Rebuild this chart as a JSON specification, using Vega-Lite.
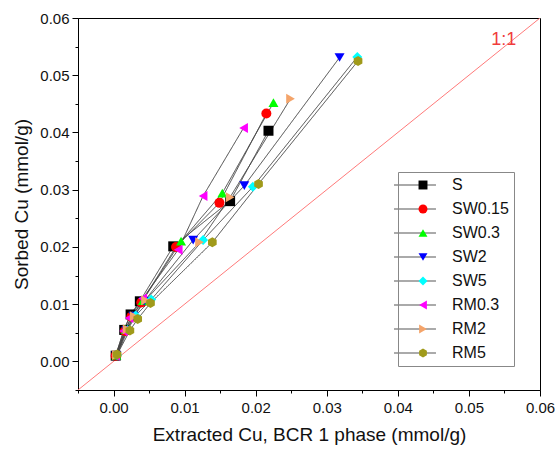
{
  "$schema": "https://vega.github.io/schema/vega-lite/v6.json",
  "width": 462,
  "height": 372,
  "autosize": {"type": "none"},
  "padding": {"left": 78, "top": 18, "right": 15, "bottom": 60},
  "background": "white",
  "config": {
    "font": "Liberation Sans",
    "view": {"stroke": "#000", "strokeWidth": 1},
    "axis": {
      "grid": false,
      "domainColor": "#000",
      "tickColor": "#000",
      "labelColor": "#111",
      "titleColor": "#111",
      "labelFontSize": 15,
      "titleFontSize": 19,
      "titleFontWeight": "normal",
      "labelFont": "Liberation Sans",
      "titleFont": "Liberation Sans"
    }
  },
  "datasets": {
    "pts": [
      {"series": "S", "x": 0.0003, "y": 0.0010},
      {"series": "S", "x": 0.0015, "y": 0.0055},
      {"series": "S", "x": 0.0024, "y": 0.0082},
      {"series": "S", "x": 0.0037, "y": 0.0105},
      {"series": "S", "x": 0.0084, "y": 0.0201},
      {"series": "S", "x": 0.0164, "y": 0.0280},
      {"series": "S", "x": 0.0218, "y": 0.0403},
      {"series": "SW0.15", "x": 0.0003, "y": 0.0010},
      {"series": "SW0.15", "x": 0.0016, "y": 0.0053},
      {"series": "SW0.15", "x": 0.0025, "y": 0.0078},
      {"series": "SW0.15", "x": 0.0039, "y": 0.0103},
      {"series": "SW0.15", "x": 0.0088, "y": 0.0200},
      {"series": "SW0.15", "x": 0.0149, "y": 0.0277},
      {"series": "SW0.15", "x": 0.0215, "y": 0.0433},
      {"series": "SW0.3", "x": 0.0004, "y": 0.0011},
      {"series": "SW0.3", "x": 0.0017, "y": 0.0056},
      {"series": "SW0.3", "x": 0.0027, "y": 0.0080},
      {"series": "SW0.3", "x": 0.0041, "y": 0.0106},
      {"series": "SW0.3", "x": 0.0095, "y": 0.0210},
      {"series": "SW0.3", "x": 0.0153, "y": 0.0294},
      {"series": "SW0.3", "x": 0.0225, "y": 0.0452},
      {"series": "SW2", "x": 0.0004, "y": 0.0010},
      {"series": "SW2", "x": 0.0018, "y": 0.0054},
      {"series": "SW2", "x": 0.0028, "y": 0.0079},
      {"series": "SW2", "x": 0.0043, "y": 0.0105},
      {"series": "SW2", "x": 0.0112, "y": 0.0212},
      {"series": "SW2", "x": 0.0184, "y": 0.0307},
      {"series": "SW2", "x": 0.0318, "y": 0.0531},
      {"series": "SW5", "x": 0.0005, "y": 0.0011},
      {"series": "SW5", "x": 0.0020, "y": 0.0055},
      {"series": "SW5", "x": 0.0031, "y": 0.0080},
      {"series": "SW5", "x": 0.0053, "y": 0.0108},
      {"series": "SW5", "x": 0.0126, "y": 0.0212},
      {"series": "SW5", "x": 0.0196, "y": 0.0305},
      {"series": "SW5", "x": 0.0343, "y": 0.0532},
      {"series": "RM0.3", "x": 0.0003, "y": 0.0010},
      {"series": "RM0.3", "x": 0.0014, "y": 0.0053},
      {"series": "RM0.3", "x": 0.0022, "y": 0.0076},
      {"series": "RM0.3", "x": 0.0041, "y": 0.0110},
      {"series": "RM0.3", "x": 0.0091, "y": 0.0195},
      {"series": "RM0.3", "x": 0.0126, "y": 0.0289},
      {"series": "RM0.3", "x": 0.0183, "y": 0.0408},
      {"series": "RM2", "x": 0.0004, "y": 0.0011},
      {"series": "RM2", "x": 0.0019, "y": 0.0056},
      {"series": "RM2", "x": 0.0029, "y": 0.0079},
      {"series": "RM2", "x": 0.0045, "y": 0.0107},
      {"series": "RM2", "x": 0.0121, "y": 0.0208},
      {"series": "RM2", "x": 0.0164, "y": 0.0287},
      {"series": "RM2", "x": 0.0249, "y": 0.0459},
      {"series": "RM5", "x": 0.0005, "y": 0.0012},
      {"series": "RM5", "x": 0.0023, "y": 0.0054},
      {"series": "RM5", "x": 0.0034, "y": 0.0074},
      {"series": "RM5", "x": 0.0052, "y": 0.0102},
      {"series": "RM5", "x": 0.0139, "y": 0.0208},
      {"series": "RM5", "x": 0.0204, "y": 0.0310},
      {"series": "RM5", "x": 0.0344, "y": 0.0525}
    ],
    "diag": [{"x": -0.005, "y": -0.005}, {"x": 0.06, "y": 0.06}],
    "lbl": [{"x": 0.0549, "y": 0.0562, "t": "1:1"}]
  },
  "encoding": {
    "x": {
      "field": "x",
      "type": "quantitative",
      "scale": {"domain": [-0.005, 0.06], "nice": false, "zero": false},
      "axis": {
        "title": "Extracted Cu, BCR 1 phase (mmol/g)",
        "values": [-0.005, 0, 0.005, 0.01, 0.015, 0.02, 0.025, 0.03, 0.035, 0.04, 0.045, 0.05, 0.055, 0.06],
        "labelExpr": "abs(round(datum.value*200))%2==1 ? '' : format(datum.value, '.2f')",
        "tickSize": {"condition": {"test": "abs(round(datum.value*200))%2==1", "value": 3}, "value": 6},
        "labelPadding": 4,
        "titlePadding": 10,
        "labelFlush": false
      }
    },
    "y": {
      "field": "y",
      "type": "quantitative",
      "scale": {"domain": [-0.005, 0.06], "nice": false, "zero": false},
      "axis": {
        "title": "Sorbed Cu (mmol/g)",
        "values": [-0.005, 0, 0.005, 0.01, 0.015, 0.02, 0.025, 0.03, 0.035, 0.04, 0.045, 0.05, 0.055, 0.06],
        "labelExpr": "abs(round(datum.value*200))%2==1 ? '' : format(datum.value, '.2f')",
        "tickSize": {"condition": {"test": "abs(round(datum.value*200))%2==1", "value": 3}, "value": 6},
        "labelPadding": 3,
        "titlePadding": 8,
        "labelFlush": false
      }
    }
  },
  "layer": [
    {
      "data": {"name": "diag"},
      "mark": {"type": "line", "color": "#ff7a7a", "strokeWidth": 1, "clip": true}
    },
    {
      "data": {"name": "pts"},
      "transform": [{"calculate": "datum.series", "as": "grp"}],
      "mark": {"type": "line", "strokeWidth": 1, "color": "#444"},
      "encoding": {
        "strokeDash": {
          "field": "grp",
          "type": "nominal",
          "scale": {"range": [[1, 0], [1, 0], [1, 0], [1, 0], [1, 0], [1, 0], [1, 0], [1, 0]]},
          "legend": {
            "orient": "none",
            "legendX": 324,
            "legendY": 154,
            "title": null,
            "symbolType": "M-4,0H4",
            "symbolSize": 110,
            "symbolStrokeWidth": 1,
            "symbolStrokeColor": "#555",
            "symbolFillColor": "transparent",
            "labelExpr": "' '",
            "labelOpacity": 0,
            "labelFontSize": 16,
            "rowPadding": 8,
            "padding": 5,
            "zindex": 1
          }
        }
      }
    },
    {
      "data": {"name": "pts"},
      "mark": {"type": "point", "filled": true, "opacity": 1, "size": 100},
      "encoding": {
        "color": {
          "field": "series",
          "type": "nominal",
          "scale": {
            "domain": ["S", "SW0.15", "SW0.3", "SW2", "SW5", "RM0.3", "RM2", "RM5"],
            "range": ["#000000", "#ff0000", "#00ff00", "#0000ff", "#00ffff", "#ff00ff", "#f4a46a", "#a09a1a"]
          },
          "legend": {
            "orient": "none",
            "legendX": 320,
            "legendY": 154,
            "title": null,
            "labelFontSize": 16,
            "labelColor": "#111",
            "labelFont": "Liberation Sans",
            "symbolSize": 80,
            "symbolOffset": 12,
            "labelOffset": 21,
            "rowPadding": 8,
            "padding": 5,
            "strokeColor": "#888",
            "fillColor": "transparent",
            "cornerRadius": 0,
            "zindex": 2
          }
        },
        "shape": {
          "field": "series",
          "type": "nominal",
          "scale": {
            "domain": ["S", "SW0.15", "SW0.3", "SW2", "SW5", "RM0.3", "RM2", "RM5"],
            "range": ["square", "circle", "triangle-up", "triangle-down", "diamond", "triangle-left", "triangle-right", "M0,-1L0.866,-0.5L0.866,0.5L0,1L-0.866,0.5L-0.866,-0.5Z"]
          }
        }
      }
    },
    {
      "data": {"name": "lbl"},
      "mark": {"type": "text", "color": "#f03c3c", "fontSize": 18, "font": "Liberation Sans"},
      "encoding": {"text": {"field": "t"}}
    }
  ]
}
